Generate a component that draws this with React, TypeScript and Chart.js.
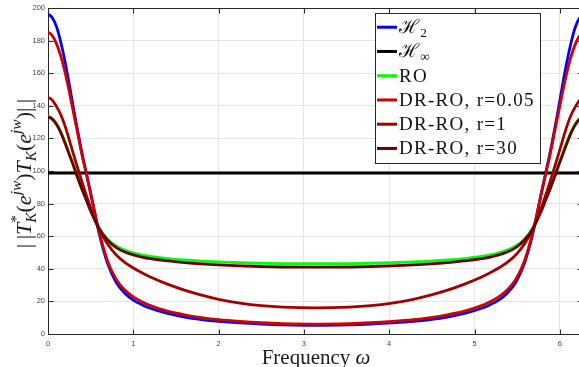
import React, { useEffect, useRef } from "react";
import { Chart, registerables } from "chart.js";

Chart.register(...registerables);

// ---------- data ----------
// Frequency samples (rad/sample); one sample beyond each end so the periodic curves start flat.
const frequency = [-0.05, 0, 0.05, 0.1, 0.15, 0.2, 0.25, 0.3, 0.35, 0.4, 0.45, 0.5, 0.6, 0.7, 0.8, 0.9, 1.0, 1.1, 1.2,
  1.4, 1.6, 1.8, 2.0, 2.25, 2.5, 2.75,
  3.1416,
  3.5332, 3.7832, 4.0332, 4.2832, 4.4832, 4.6832, 4.8832, 5.0832, 5.1832, 5.2832, 5.3832, 5.4832, 5.5832, 5.6832,
  5.7832, 5.8332, 5.8832, 5.9332, 5.9832, 6.0332, 6.0832, 6.1332, 6.1832, 6.2332, 6.2832, 6.3332];

const h2Values = [194, 196, 194, 188.5, 179, 167, 153, 138, 124, 110.5, 98.5, 86.5, 61.5, 43, 31.5, 25, 20.8, 18, 15.8,
  12.6, 10.4, 8.9, 7.8, 6.8, 6.1, 5.6,
  5.3,
  5.6, 6.1, 6.8, 7.8, 8.9, 10.4, 12.6, 15.8, 18, 20.8, 25, 31.5, 43, 61.5,
  86.5, 98.5, 110.5, 124, 138, 153, 167, 179, 188.5, 194, 196, 194];

const hInfFrequency = [0, 6.2832];
const hInfValues = [98.7, 98.7];

const roValues = [132.3, 133.5, 132.3, 129, 124, 117.8, 110.6, 103.5, 96, 89, 82.5, 76, 65, 58, 54, 51.5, 49.8, 48.5, 47.6,
  46.3, 45.4, 44.7, 44.2, 43.7, 43.4, 43.2,
  43.1,
  43.2, 43.4, 43.7, 44.2, 44.7, 45.4, 46.3, 47.6, 48.5, 49.8, 51.5, 54, 58, 65,
  76, 82.5, 89, 96, 103.5, 110.6, 117.8, 124, 129, 132.3, 133.5, 132.3];

const drRo005Values = [183, 185, 183, 178, 170.5, 160.5, 148.5, 135.5, 122.5, 109.5, 98, 86, 62.5, 44.5, 33.5, 27, 22.8, 19.8, 17.4,
  14, 11.8, 10.1, 8.8, 7.7, 6.9, 6.4,
  6.1,
  6.4, 6.9, 7.7, 8.8, 10.1, 11.8, 14, 17.4, 19.8, 22.8, 27, 33.5, 44.5, 62.5,
  86, 98, 109.5, 122.5, 135.5, 148.5, 160.5, 170.5, 178, 183, 185, 183];

const drRo1Values = [143.5, 145, 143.5, 139.5, 134.5, 127.5, 119, 110, 101.5, 93, 85, 77.5, 64.5, 55, 48.5, 44, 40.5, 37.6, 35,
  30.6, 26.9, 23.8, 21.3, 19, 17.4, 16.5,
  16,
  16.5, 17.4, 19, 21.3, 23.8, 26.9, 30.6, 35, 37.6, 40.5, 44, 48.5, 55, 64.5,
  77.5, 85, 93, 101.5, 110, 119, 127.5, 134.5, 139.5, 143.5, 145, 143.5];

const drRo30Values = [131.8, 133, 131.8, 128.5, 123.5, 117, 110, 103, 95.5, 88.5, 82, 75.5, 64.5, 57.5, 53, 50.3, 48.5, 47.2, 46.2,
  44.8, 43.8, 43, 42.4, 41.8, 41.4, 41.1,
  41,
  41.1, 41.4, 41.8, 42.4, 43, 43.8, 44.8, 46.2, 47.2, 48.5, 50.3, 53, 57.5, 64.5,
  75.5, 82, 88.5, 95.5, 103, 110, 117, 123.5, 128.5, 131.8, 133, 131.8];

const xTickValues = [0, 1, 2, 3, 4, 5, 6];
const yTickValues = [0, 20, 40, 60, 80, 100, 120, 140, 160, 180, 200];
const X_VISIBLE_MAX = 6.225; // axis runs to 2*pi, the figure is cropped at the right
const X_AXIS_END = 6.2832;

const seriesLabels = ["H2", "Hinf", "RO", "DR-RO, r=0.05", "DR-RO, r=1", "DR-RO, r=30"];
const seriesColors = ["#0000ff", "#000000", "#00ff00", "#d40000", "#a50000", "#6b0000"];

// ---------- text helpers ----------
const SERIF = '"Liberation Serif", "DejaVu Serif", serif';
interface Piece { t: string; italic?: boolean; scale?: number; rise?: number; }
type Item = Piece | Piece[];

function fontFor(p: Piece, size: number) {
  return `${p.italic ? "italic " : ""}${size * (p.scale ?? 1)}px ${SERIF}`;
}
function itemWidth(ctx: CanvasRenderingContext2D, item: Item, size: number) {
  const arr = Array.isArray(item) ? item : [item];
  let w = 0;
  for (const p of arr) {
    ctx.font = fontFor(p, size);
    w = Math.max(w, ctx.measureText(p.t).width);
  }
  return w;
}
function drawRich(ctx: CanvasRenderingContext2D, items: Item[], x: number, y: number, size: number, align: "left" | "center") {
  ctx.textAlign = "left";
  ctx.textBaseline = "alphabetic";
  const total = items.reduce((s, it) => s + itemWidth(ctx, it, size), 0);
  let cx = align === "center" ? x - total / 2 : x;
  for (const it of items) {
    const arr = Array.isArray(it) ? it : [it];
    const w = itemWidth(ctx, it, size);
    for (const p of arr) {
      ctx.font = fontFor(p, size);
      ctx.fillText(p.t, cx, y - (p.rise ?? 0) * size);
    }
    cx += w;
  }
  return total;
}

const yLabelItems: Item[] = [
  { t: "|\u2009|" }, { t: "T", italic: true },
  [{ t: "*", scale: 0.7, rise: 0.45 }, { t: "K", italic: true, scale: 0.7, rise: -0.25 }],
  { t: "(" }, { t: "e", italic: true }, { t: "jw", italic: true, scale: 0.7, rise: 0.42 }, { t: ")" },
  { t: "T", italic: true }, { t: "K", italic: true, scale: 0.7, rise: -0.25 },
  { t: "(" }, { t: "e", italic: true }, { t: "jw", italic: true, scale: 0.7, rise: 0.42 }, { t: ")" },
  { t: "|\u2009|" },
];
const xLabelItems: Item[] = [{ t: "Frequency " }, { t: "ω", italic: true }];

const legendItems: Item[][] = [
  [{ t: "ℋ" }, { t: "2", scale: 0.7, rise: -0.2 }],
  [{ t: "ℋ" }, { t: "∞", scale: 0.7, rise: -0.2 }],
  [{ t: "RO" }],
  [{ t: "DR-RO, r=0.05" }],
  [{ t: "DR-RO, r=1" }],
  [{ t: "DR-RO, r=30" }],
];

const framePlugin = {
  id: "matlabFrame",
  beforeDatasetsDraw(chart: any) {
    const { ctx, chartArea } = chart;
    const xs = chart.scales.x, ys = chart.scales.y;
    const L = Math.round(chartArea.left) + 0.5;
    const R = Math.round(xs.getPixelForValue(X_AXIS_END)) - 0.5;
    const T = Math.round(chartArea.top) + 0.5, B = Math.round(chartArea.bottom) + 0.5;
    ctx.save();
    ctx.strokeStyle = "#262626";
    ctx.lineWidth = 1;
    ctx.beginPath();
    ctx.moveTo(L, T); ctx.lineTo(R, T); ctx.lineTo(R, B);
    for (const v of xTickValues) {
      const px = Math.round(xs.getPixelForValue(v)) + 0.5;
      ctx.moveTo(px, B); ctx.lineTo(px, B - 5);
      ctx.moveTo(px, T); ctx.lineTo(px, T + 5);
    }
    for (const v of yTickValues) {
      const py = Math.round(ys.getPixelForValue(v)) + 0.5;
      ctx.moveTo(L, py); ctx.lineTo(L + 5, py);
      ctx.moveTo(R, py); ctx.lineTo(R - 6, py);
    }
    ctx.stroke();
    ctx.restore();
  },
  afterDraw(chart: any) {
    const { ctx } = chart;
    ctx.save();
    ctx.fillStyle = "#1a1a1a";
    // x title
    drawRich(ctx, xLabelItems, 316, 364, 21, "center");
    // y title
    ctx.save();
    ctx.translate(30.5, 173.5);
    ctx.rotate(-Math.PI / 2);
    drawRich(ctx, yLabelItems, 0, 0, 22, "center");
    ctx.restore();
    // legend
    const bx = 375.5, by = 13.5, bw = 165, bh = 150;
    ctx.fillStyle = "#ffffff";
    ctx.fillRect(bx, by, bw, bh);
    ctx.strokeStyle = "#262626";
    ctx.lineWidth = 1;
    ctx.strokeRect(bx, by, bw, bh);
    for (let i = 0; i < legendItems.length; i++) {
      const ry = 27.2 + i * 24.25;
      ctx.strokeStyle = seriesColors[i];
      ctx.lineWidth = 3;
      ctx.beginPath();
      ctx.moveTo(377, ry); ctx.lineTo(397, ry);
      ctx.stroke();
      ctx.fillStyle = "#111111";
      (ctx as any).letterSpacing = "1.3px";
      drawRich(ctx, legendItems[i], 399, ry + 6, 19, "left");
      (ctx as any).letterSpacing = "0px";
    }
    ctx.restore();
  },
};

export default function App() {
  const canvasRef = useRef<HTMLCanvasElement | null>(null);
  useEffect(() => {
    const canvas = canvasRef.current;
    if (!canvas) return;
    const mk = (xArr: number[], yArr: number[]) => xArr.map((x, i) => ({ x, y: yArr[i] }));
    const allValues = [h2Values, hInfValues, roValues, drRo005Values, drRo1Values, drRo30Values];
    const datasets = allValues.map((vals, i) => ({
      label: seriesLabels[i],
      data: i === 1 ? mk(hInfFrequency, vals) : mk(frequency, vals),
      borderColor: seriesColors[i],
      backgroundColor: seriesColors[i],
      borderWidth: i === 1 ? 3 : 2.8,
      pointRadius: 0,
      cubicInterpolationMode: "monotone" as const,
      fill: false,
      order: 6 - i,
    }));
    const tickFont = { family: '"Liberation Sans", Arial, sans-serif', size: 7.5 };
    const chart = new Chart(canvas, {
      type: "line",
      data: { datasets },
      options: {
        responsive: false,
        animation: false,
        events: [],
        layout: { padding: { top: 8, left: 0, right: 0, bottom: 0 } },
        plugins: { legend: { display: false }, tooltip: { enabled: false } },
        scales: {
          x: {
            type: "linear",
            min: 0,
            max: X_VISIBLE_MAX,
            afterBuildTicks: (s: any) => { s.ticks = xTickValues.map((v) => ({ value: v })); },
            afterFit: (s: any) => { s.height = 33; },
            grid: { color: "#e4e4e4", lineWidth: 1, drawTicks: false },
            border: { display: true, color: "#262626", width: 1 },
            ticks: { padding: 5, font: tickFont, color: "#444444", maxRotation: 0, autoSkip: false },
          },
          y: {
            type: "linear",
            min: 0,
            max: 200,
            afterBuildTicks: (s: any) => { s.ticks = yTickValues.map((v) => ({ value: v })); },
            afterFit: (s: any) => { s.width = 48; },
            grid: { color: "#e4e4e4", lineWidth: 1, drawTicks: false },
            border: { display: true, color: "#262626", width: 1 },
            ticks: { padding: 3, font: tickFont, color: "#444444", autoSkip: false },
          },
        },
      },
      plugins: [framePlugin],
    });
    return () => chart.destroy();
  }, []);
  return (
    <div style={{ position: "fixed", left: 0, top: 0, width: 579, height: 367, overflow: "hidden", background: "#ffffff" }}>
      <canvas ref={canvasRef} width={579} height={367} style={{ display: "block", width: 579, height: 367 }} />
    </div>
  );
}
